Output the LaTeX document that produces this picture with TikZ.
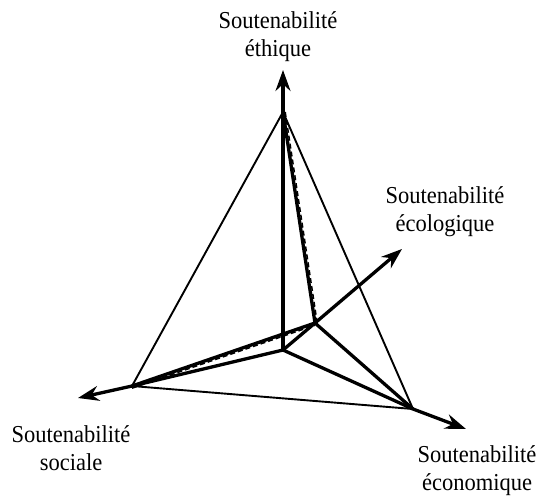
\documentclass[tikz,border=0pt]{standalone}
\usepackage{fontspec}
\setmainfont{Liberation Serif}
\usetikzlibrary{arrows.meta}
\begin{document}
\begin{tikzpicture}[x=1pt,y=-1pt,
  thinedge/.style={line width=1.9pt},
  thickedge/.style={line width=3.3pt,line join=round},
  axisarrow/.style={line width=3.3pt,line join=round,-{Stealth[length=21pt,width=15pt,inset=7pt]}},
  dashedge/.style={line width=1.5pt,dash pattern=on 5pt off 3pt},
  lab/.style={font=\fontsize{22.5}{26}\selectfont,align=center,inner sep=0pt,anchor=north,yscale=1.08,transform shape}]
\useasboundingbox (0,0) rectangle (543,496);
% points
\coordinate (O) at (283,350);
\coordinate (T) at (283,112);
\coordinate (L) at (132,386);
\coordinate (R) at (413,409);
\coordinate (E) at (315,323);
\coordinate (tipT) at (283,70);
\coordinate (tipL) at (78,398);
\coordinate (tipR) at (466,429);
\coordinate (tipE) at (402,249);
% thin triangle
\draw[thinedge] (T) -- (L) -- (R) -- cycle;
% thick edges to E
\draw[thickedge] (T) -- (E);
\draw[thickedge] (L) -- (E);
\draw[thickedge] (R) -- (E);
\draw[dashedge] ([xshift=2.2pt]T) -- ([xshift=2.2pt]E);
\draw[dashedge] ([yshift=-2.2pt]L) -- ([yshift=-2.2pt]E);
% axes
\draw[axisarrow] (O) -- (tipT);
\draw[axisarrow] (O) -- (L) -- (tipL);
\draw[axisarrow] (O) -- (R) -- (tipR);
\draw[axisarrow] (O) -- (E) -- (tipE);
% labels
\node[lab] (ethique) at (278,11) {Soutenabilité\\éthique};
\node[lab] (ecologique) at (445,186) {Soutenabilité\\écologique};
\node[lab] (sociale) at (71,425) {Soutenabilité\\sociale};
\node[lab] (economique) at (477,445) {Soutenabilité\\économique};
\end{tikzpicture}
\end{document}
